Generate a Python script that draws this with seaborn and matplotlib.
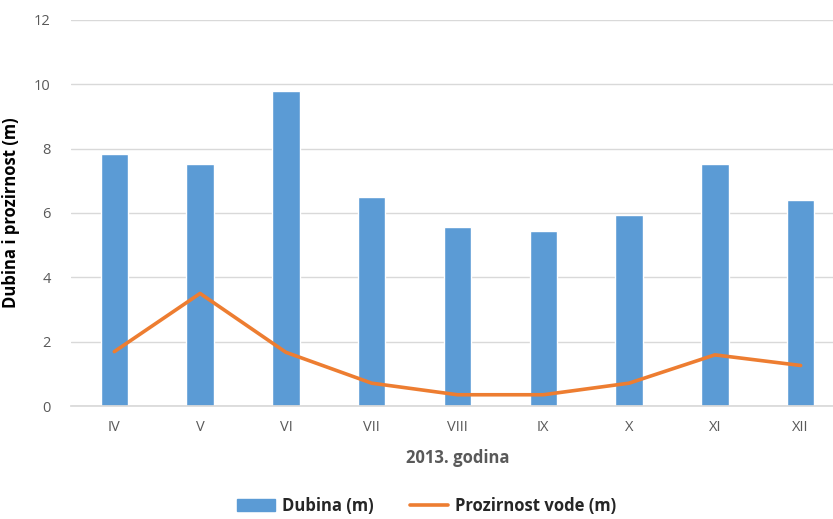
import numpy as np
import pandas as pd
import matplotlib
matplotlib.use("Agg")
import matplotlib.pyplot as plt
from matplotlib.patches import Patch
from matplotlib.lines import Line2D
import seaborn as sns

months = ["IV", "V", "VI", "VII", "VIII", "IX", "X", "XI", "XII"]
dubina = [7.83, 7.51, 9.78, 6.49, 5.57, 5.44, 5.93, 7.51, 6.39]
prozirnost = [1.69, 3.50, 1.67, 0.71, 0.35, 0.35, 0.71, 1.59, 1.26]

df = pd.DataFrame({"mjesec": months, "Dubina (m)": dubina, "Prozirnost vode (m)": prozirnost})

sns.set_theme(style="white")
plt.rcParams["font.family"] = ["Open Sans", "DejaVu Sans"]

blue = "#5B9BD5"
orange = "#ED7D31"
grey = "#595959"

fig = plt.figure(figsize=(8.33, 5.19), dpi=100)
# plot area runs slightly past the right edge, as in the reference
ax = fig.add_axes([0.0857, 0.2177, 0.927, 0.7438])

sns.barplot(data=df, x="mjesec", y="Dubina (m)", order=months, color=blue,
            width=0.32, saturation=1, ax=ax, zorder=2)
sns.lineplot(data=df, x="mjesec", y="Prozirnost vode (m)", sort=False, color=orange,
             linewidth=2.6, ax=ax, zorder=3)

ax.set_xlim(-0.5, len(months) - 0.5)
ax.set_ylim(0, 12)
ax.set_yticks(np.arange(0, 13, 2))
ax.yaxis.grid(True, color="#D9D9D9", linewidth=1, zorder=0)
ax.set_axisbelow(True)
for s in ["top", "right", "left"]:
    ax.spines[s].set_visible(False)
ax.spines["bottom"].set_color("#D9D9D9")
ax.tick_params(axis="both", length=0, labelsize=10.5, labelcolor=grey)
ax.tick_params(axis="y", pad=15)
ax.tick_params(axis="x", pad=10)

ax.set_xlabel("2013. godina", fontsize=12, fontweight="bold", color=grey, labelpad=10)
ax.set_ylabel("Dubina i prozirnost (m)", fontsize=12, fontweight="bold", color="black", labelpad=10)

handles = [Patch(facecolor=blue, edgecolor=blue), Line2D([0], [0], color=orange, linewidth=2.6)]
fig.legend(handles, ["Dubina (m)", "Prozirnost vode (m)"], loc="center",
           bbox_to_anchor=(0.512, 0.026), ncol=2, frameon=False, handlelength=2.3,
           handletextpad=0.4, columnspacing=2.2, prop={"weight": "bold", "size": 12})

fig.savefig("out.png", dpi=100)
